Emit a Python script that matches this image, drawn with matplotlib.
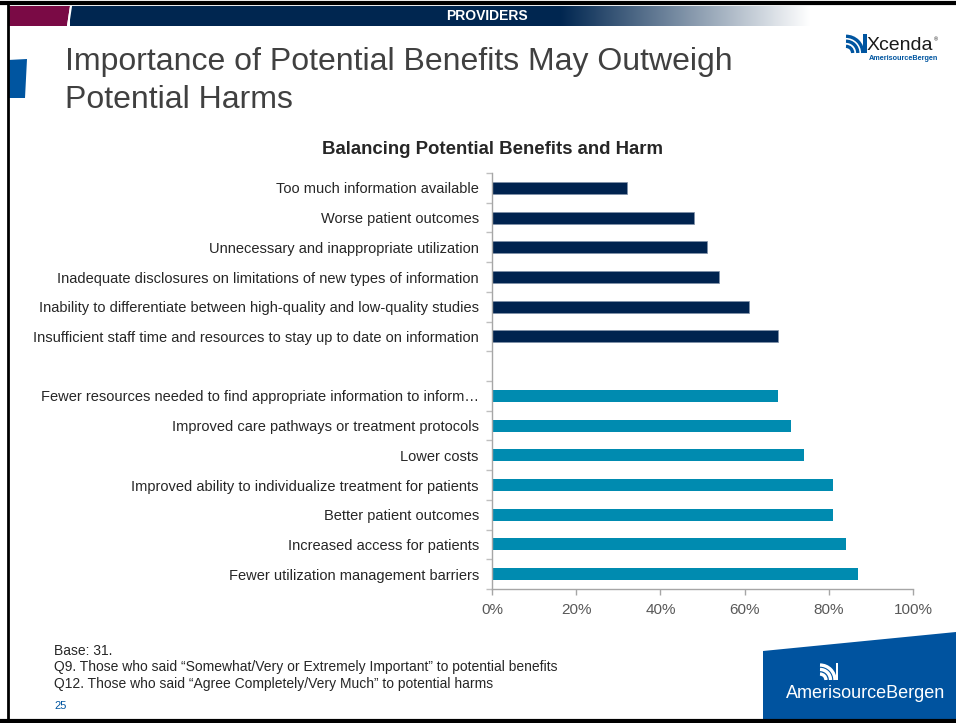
import matplotlib
matplotlib.use("Agg")
import matplotlib.pyplot as plt
import numpy as np
from matplotlib.patches import Polygon, Rectangle, Arc

plt.rcParams['font.family'] = ['Liberation Sans', 'DejaVu Sans']

# ---- data ----
harm_labels = [
    "Too much information available",
    "Worse patient outcomes",
    "Unnecessary and inappropriate utilization",
    "Inadequate disclosures on limitations of new types of information",
    "Inability to differentiate between high-quality and low-quality studies",
    "Insufficient staff time and resources to stay up to date on information",
]
harm_values = [32, 48, 51, 54, 61, 68]

benefit_labels = [
    "Fewer resources needed to find appropriate information to inform\u2026",
    "Improved care pathways or treatment protocols",
    "Lower costs",
    "Improved ability to individualize treatment for patients",
    "Better patient outcomes",
    "Increased access for patients",
    "Fewer utilization management barriers",
]
benefit_values = [68, 71, 74, 81, 81, 84, 87]

x_ticks = [0, 20, 40, 60, 80, 100]
x_ticklabels = ["0%", "20%", "40%", "60%", "80%", "100%"]

harm_color = "#00234F"
benefit_color = "#008BB0"

W, H = 956, 723
fig = plt.figure(figsize=(W / 100, H / 100), dpi=100)

# ---- decoration layer in pixel coords ----
deco = fig.add_axes([0, 0, 1, 1], zorder=0)
deco.set_xlim(0, W)
deco.set_ylim(H, 0)
deco.axis("off")

# header gradient bar
grad = np.ones((1, 400, 3))
navy = np.array([0x00, 0x26, 0x50]) / 255
for i in range(400):
    t = i / 399
    grad[0, i] = navy * (1 - t) + np.array([1, 1, 1]) * t
deco.add_patch(Rectangle((70, 6), 490, 20, color=navy, lw=0, zorder=1))
deco.imshow(grad, extent=(560, 810, 26, 6), aspect="auto", zorder=1)
deco.add_patch(Polygon([(8, 6), (70, 6), (67, 26), (8, 26)], closed=True,
                       color="#7A0A45", lw=0, zorder=2))
deco.plot([71, 68], [6, 26], color="white", lw=1.5, zorder=3)
deco.text(487, 16, "PROVIDERS", color="white", fontsize=10, fontweight="bold",
          ha="center", va="center", zorder=4)

# frame
deco.plot([0, W], [3, 3], color="black", lw=3, zorder=5)
deco.plot([8, 8], [3, H], color="black", lw=2, zorder=5)
deco.plot([0, W], [721, 721], color="black", lw=3, zorder=5)

# left blue tab
deco.add_patch(Polygon([(8, 60), (27, 59), (25, 98), (8, 98)], closed=True,
                       color="#0055A0", lw=0, zorder=2))

# title
deco.text(65, 62, "Importance of Potential Benefits May Outweigh",
          fontsize=23, color="#404040", ha="left", va="center")
deco.text(65, 100, "Potential Harms",
          fontsize=23, color="#404040", ha="left", va="center")

# logo icon: arcs from lower-left plus a vertical bar on the right
def logo_icon(x0, y0, s, color, ax):
    # x0, y0: lower-left corner in pixel coords (y downward)
    for r in [0.35, 0.62, 0.88]:
        ax.add_patch(Arc((x0, y0), 2 * r * s, 2 * r * s,
                         theta1=270, theta2=360, color=color, lw=2.4, zorder=6))
    ax.add_patch(Rectangle((x0 + s * 0.92, y0 - s), s * 0.16, s,
                           color=color, lw=0, zorder=6))

logo_icon(846, 53, 19, "#0055A0", deco)
deco.text(867, 45, "Xcenda", fontsize=14, color="#1A1A1A",
          ha="left", va="center")
deco.text(934, 40, "\u00ae", fontsize=4, color="#1A1A1A", ha="left", va="center")
deco.text(869, 58, "AmerisourceBergen", fontsize=5.2, color="#0055A0",
          fontweight="bold", ha="left", va="center")

# bottom right panel
deco.add_patch(Polygon([(763, 651), (956, 632), (956, 720), (763, 720)],
                       closed=True, color="#00539F", lw=0, zorder=2))
logo_icon(820, 680, 17, "white", deco)
deco.text(866, 693, "AmerisourceBergen", fontsize=13, color="white",
          ha="center", va="center", zorder=6)

# footnotes
deco.text(54, 651, "Base: 31.", fontsize=10, color="#262626", va="center")
deco.text(54, 667, "Q9. Those who said \u201cSomewhat/Very or Extremely Important\u201d to potential benefits",
          fontsize=10, color="#262626", va="center")
deco.text(54, 684, "Q12. Those who said \u201cAgree Completely/Very Much\u201d to potential harms",
          fontsize=10, color="#262626", va="center")
deco.text(54, 706, "25", fontsize=8, color="#0055A0", va="center")

# chart title
deco.text(493, 150, "Balancing Potential Benefits and Harm", fontsize=13.4,
          fontweight="bold", color="#262626", ha="center", va="center")

# ---- chart ----
ax = fig.add_axes([492 / W, 1 - 589 / H, (913 - 492) / W, (589 - 173) / H], zorder=2)
ax.patch.set_alpha(0)

labels = harm_labels + [""] + benefit_labels
n = len(labels)
ypos = np.arange(n)
ax.barh(ypos[:len(harm_values)], harm_values, height=0.4, color=harm_color,
        edgecolor="#8090A8", linewidth=0.5)
ax.barh(ypos[len(harm_values) + 1:], benefit_values, height=0.4, color=benefit_color)

ax.set_ylim(n - 0.5, -0.5)
ax.set_xlim(0, 100)
ax.set_yticks(ypos)
ax.set_yticklabels(labels, fontsize=10.5, color="#262626")
ax.tick_params(axis="y", which="major", length=0, pad=9.5)
ax.set_yticks(np.arange(-0.5, n, 1.0), minor=True)
ax.tick_params(axis="y", which="minor", length=4, color="#BFBFBF", width=1)

ax.set_xticks(x_ticks)
ax.set_xticklabels(x_ticklabels, fontsize=11, color="#595959")
ax.tick_params(axis="x", length=4, color="#A6A6A6", width=1, pad=6)

for sp in ["top", "right"]:
    ax.spines[sp].set_visible(False)
for sp in ["left", "bottom"]:
    ax.spines[sp].set_color("#A6A6A6")
    ax.spines[sp].set_linewidth(1)

fig.savefig("out.png", dpi=100)
